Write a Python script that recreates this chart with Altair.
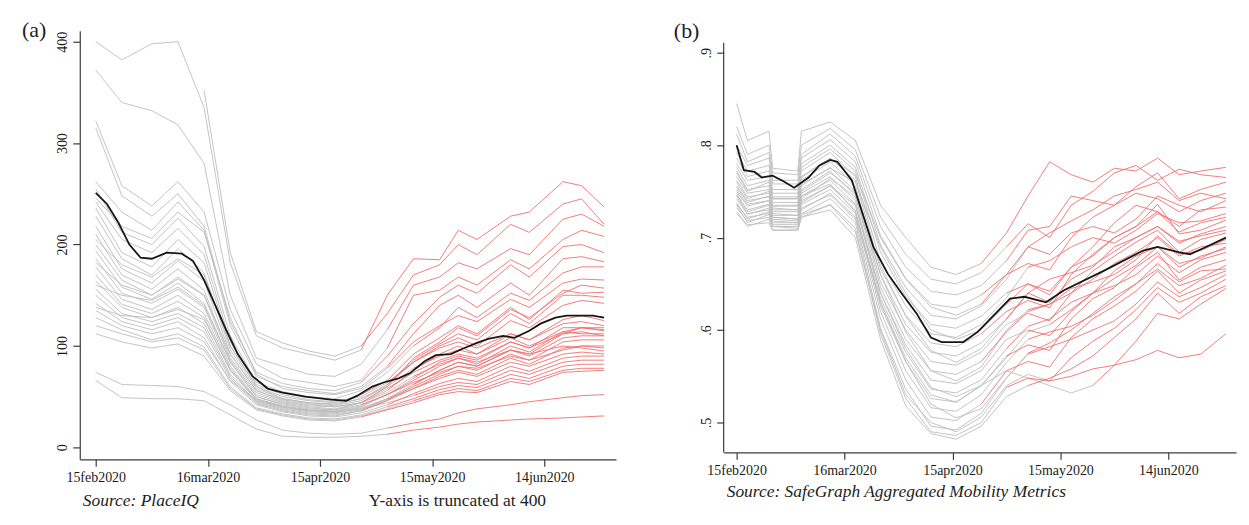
import altair as alt
import pandas as pd
import numpy as np

BASE = pd.Timestamp("2020-02-15")
nan = np.nan

# ---------------- shared tick labels ----------------
xtick_dates = ["2020-02-15", "2020-03-16", "2020-04-15", "2020-05-15", "2020-06-14"]
xtick_labels = ["15feb2020", "16mar2020", "15apr2020", "15may2020", "14jun2020"]

# ---------------- panel (a): mixing index (PlaceIQ) ----------------
dates_a = ["2020-02-15", "2020-02-22", "2020-03-01", "2020-03-08", "2020-03-15", "2020-03-22",
           "2020-03-29", "2020-04-05", "2020-04-12", "2020-04-19", "2020-04-26", "2020-05-03",
           "2020-05-10", "2020-05-17", "2020-05-22", "2020-05-27", "2020-06-05", "2020-06-10",
           "2020-06-19", "2020-06-24", "2020-06-30"]
states_a = [
    [400, 382, 398, 400, 335, 182, 110, 98, 92, 86, 96, 150, 186, 185, 214, 205, 228, 232, 262, 258, 237],
    [nan, nan, nan, nan, 352, 192, 114, 103, 95, 90, 100, 132, 170, 180, 200, 190, 220, 212, 240, 245, 220],
    [372, 340, 332, 318, 280, 150, 88, 80, 72, 70, 82, 116, 160, 168, 182, 176, 196, 190, 225, 230, 218],
    [322, 258, 238, 262, 232, 136, 82, 68, 64, 60, 66, 98, 150, 155, 168, 160, 185, 176, 205, 214, 208],
    [315, 248, 228, 250, 218, 124, 74, 63, 58, 56, 64, 90, 122, 148, 160, 152, 180, 168, 198, 200, 192],
    [262, 232, 214, 242, 214, 120, 70, 60, 56, 53, 60, 80, 112, 140, 150, 138, 162, 150, 186, 188, 183],
    [255, 212, 200, 226, 198, 110, 64, 55, 50, 48, 56, 74, 100, 118, 138, 128, 152, 145, 172, 178, 178],
    [242, 205, 192, 216, 190, 104, 62, 52, 47, 45, 50, 64, 84, 98, 104, 98, 112, 106, 122, 124, 120],
    [236, 192, 178, 205, 182, 100, 60, 50, 46, 44, 52, 66, 92, 108, 120, 112, 138, 126, 155, 152, 153],
    [228, 186, 170, 196, 172, 96, 58, 48, 44, 42, 48, 62, 86, 102, 112, 106, 132, 122, 150, 150, 148],
    [218, 176, 162, 184, 164, 92, 56, 47, 43, 41, 46, 62, 84, 100, 108, 100, 125, 118, 140, 145, 142],
    [210, 170, 156, 176, 155, 88, 54, 45, 41, 40, 44, 54, 70, 82, 88, 84, 96, 92, 100, 98, 95],
    [200, 165, 150, 168, 150, 86, 52, 44, 40, 38, 44, 56, 76, 92, 100, 92, 112, 106, 126, 130, 125],
    [194, 158, 146, 162, 142, 84, 50, 43, 39, 37, 44, 60, 88, 104, 118, 110, 136, 128, 152, 160, 157],
    [186, 152, 142, 156, 138, 80, 48, 41, 37, 36, 41, 52, 68, 84, 90, 86, 104, 98, 118, 118, 116],
    [178, 146, 136, 150, 132, 78, 47, 40, 36, 35, 40, 52, 66, 80, 88, 82, 100, 94, 114, 112, 112],
    [170, 141, 132, 144, 128, 76, 46, 39, 35, 34, 38, 48, 62, 76, 84, 80, 96, 90, 108, 110, 110],
    [164, 138, 128, 138, 122, 72, 45, 38, 34, 33, 37, 47, 60, 72, 80, 76, 92, 86, 104, 106, 106],
    [156, 132, 124, 132, 118, 70, 44, 37, 33, 32, 36, 46, 58, 70, 76, 72, 88, 82, 98, 100, 100],
    [150, 128, 120, 128, 114, 68, 43, 36, 32, 31, 36, 48, 62, 76, 84, 80, 96, 92, 112, 118, 118],
    [142, 124, 116, 124, 108, 65, 42, 35, 31, 30, 34, 42, 53, 63, 68, 65, 80, 75, 88, 90, 90],
    [135, 120, 112, 118, 104, 66, 46, 40, 37, 35, 38, 44, 51, 60, 64, 62, 76, 72, 84, 86, 86],
    [128, 116, 106, 112, 99, 60, 39, 33, 29, 28, 32, 40, 48, 57, 61, 59, 72, 68, 80, 82, 82],
    [120, 112, 104, 108, 96, 58, 38, 32, 28, 27, 31, 38, 46, 54, 58, 56, 68, 65, 76, 78, 78],
    [112, 104, 98, 102, 90, 56, 37, 31, 27, 26, 30, 37, 44, 52, 55, 54, 65, 62, 74, 75, 76],
    [74, 62, 61, 60, 55, 42, 27, 17, 14, 13, 14, 19, 24, 28, 34, 38, 42, 45, 49, 51, 52],
    [66, 49, 48, 48, 46, 32, 18, 11, 10, 10, 11, 13, 17, 20, 23, 25, 27, 28, 29, 30, 31],
    [246, 218, 206, 232, 212, 128, 72, 58, 54, 52, 58, 78, 104, 120, 130, 124, 146, 138, 162, 166, 165],
    [205, 180, 168, 186, 170, 100, 60, 48, 44, 43, 48, 60, 78, 90, 96, 92, 108, 100, 114, 118, 115],
    [182, 160, 150, 166, 150, 92, 56, 46, 42, 40, 44, 58, 74, 86, 92, 88, 104, 98, 112, 114, 110],
    [160, 150, 145, 158, 140, 84, 50, 42, 38, 37, 42, 52, 64, 74, 80, 78, 90, 86, 96, 100, 98],
    [138, 130, 128, 136, 126, 76, 48, 40, 36, 35, 39, 48, 58, 68, 74, 70, 84, 80, 92, 94, 92],
]
reopen_a = [10, 10, 11, 11, 10, 11, 12, 11, 10, 12, 11, 12, 11, 10, 12, 11, 12, 11, 10, 12,
            11, 12, 11, 12, 10, 11, 11, 11, 12, 11, 10, 12]

mean_dates_a = ["2020-02-15", "2020-02-18", "2020-02-21", "2020-02-24", "2020-02-27", "2020-03-01",
                "2020-03-05", "2020-03-09", "2020-03-12", "2020-03-15", "2020-03-18", "2020-03-21",
                "2020-03-24", "2020-03-28", "2020-04-01", "2020-04-05", "2020-04-11", "2020-04-18",
                "2020-04-22", "2020-04-25", "2020-04-29", "2020-05-02", "2020-05-06", "2020-05-09",
                "2020-05-13", "2020-05-16", "2020-05-20", "2020-05-23", "2020-05-27", "2020-05-30",
                "2020-06-03", "2020-06-06", "2020-06-10", "2020-06-13", "2020-06-17", "2020-06-20",
                "2020-06-24", "2020-06-27", "2020-06-30"]
mean_a = [251, 240, 222, 200, 187, 186, 192, 191, 184, 165, 140, 115, 92, 70, 58, 54, 50, 47,
          46, 51, 60, 64, 68, 73, 85, 91, 92, 97, 103, 107, 110, 108, 115, 122, 128, 130, 130, 130, 128]

# ---------------- panel (b): fraction leaving home (SafeGraph) ----------------
dates_b = ["2020-02-15", "2020-02-18", "2020-02-24", "2020-02-25", "2020-03-03", "2020-03-04",
           "2020-03-12", "2020-03-19", "2020-03-26", "2020-04-02", "2020-04-09", "2020-04-16",
           "2020-04-23", "2020-04-30", "2020-05-06", "2020-05-12", "2020-05-18", "2020-05-24",
           "2020-05-30", "2020-06-05", "2020-06-11", "2020-06-17", "2020-06-23", "2020-06-30"]
states_b = [
    [.845, .805, .815, .775, .772, .815, .825, .805, .735, .700, .668, .660, .672, .705, .745, .782, .768, .760, .775, .772, .786, .768, .772, .776],
    [.820, .790, .800, .770, .768, .800, .818, .795, .722, .682, .655, .650, .662, .690, .715, .700, .735, .750, .770, .778, .762, .774, .768, .765],
    [.812, .782, .792, .762, .762, .790, .812, .788, .712, .668, .642, .638, .648, .675, .708, .712, .745, .740, .735, .755, .770, .742, .752, .760],
    [.800, .778, .786, .758, .758, .786, .806, .782, .702, .656, .628, .624, .638, .660, .672, .665, .700, .722, .735, .748, .742, .728, .740, .748],
    [.792, .772, .778, .752, .752, .780, .800, .776, .692, .646, .616, .612, .626, .655, .690, .682, .705, .712, .705, .720, .745, .735, .728, .740],
    [.786, .766, .772, .748, .748, .776, .796, .772, .684, .636, .606, .602, .615, .640, .650, .638, .668, .690, .716, .735, .728, .712, .730, .733],
    [.780, .762, .766, .744, .744, .772, .792, .766, .674, .626, .596, .592, .606, .635, .668, .675, .690, .700, .694, .708, .726, .716, .718, .726],
    [.776, .756, .762, .742, .742, .766, .786, .762, .666, .616, .586, .582, .596, .620, .632, .624, .660, .682, .700, .712, .736, .704, .708, .719],
    [.772, .752, .756, .738, .738, .762, .782, .756, .660, .606, .576, .572, .586, .612, .640, .655, .662, .670, .685, .700, .712, .694, .704, .712],
    [.766, .748, .752, .734, .734, .756, .776, .750, .652, .600, .566, .562, .576, .606, .618, .610, .640, .664, .680, .695, .708, .684, .698, .705],
    [.762, .744, .748, .732, .730, .752, .772, .746, .646, .590, .556, .552, .566, .598, .620, .628, .645, .652, .660, .676, .702, .682, .686, .698],
    [.756, .740, .744, .728, .728, .748, .766, .740, .640, .584, .546, .542, .556, .590, .600, .594, .620, .640, .664, .680, .690, .672, .678, .690],
    [.752, .736, .740, .726, .724, .745, .762, .736, .634, .576, .536, .532, .546, .580, .604, .612, .630, .640, .648, .660, .680, .662, .676, .684],
    [.746, .730, .736, .722, .720, .740, .756, .730, .626, .566, .526, .522, .540, .572, .584, .578, .612, .634, .646, .668, .684, .654, .668, .676],
    [.742, .726, .730, .718, .716, .736, .752, .726, .620, .556, .516, .512, .530, .565, .590, .598, .604, .616, .632, .650, .666, .648, .656, .670],
    [.736, .722, .726, .714, .714, .732, .746, .720, .612, .546, .506, .502, .520, .556, .566, .560, .592, .612, .626, .642, .664, .640, .654, .664],
    [.732, .718, .722, .712, .710, .726, .742, .716, .602, .536, .496, .492, .510, .548, .574, .582, .590, .600, .610, .628, .652, .636, .646, .660],
    [.726, .714, .716, .708, .708, .722, .736, .710, .596, .526, .490, .486, .500, .538, .548, .545, .570, .588, .602, .622, .646, .630, .640, .655],
    [.728, .712, .720, .708, .708, .722, .730, .700, .590, .518, .488, .482, .496, .528, .540, .548, .558, .572, .592, .612, .640, .618, .636, .648],
    [.735, .716, .725, .712, .712, .725, .735, .706, .600, .530, .500, .490, .506, .540, .552, .545, .550, .558, .562, .568, .578, .570, .574, .596],
    [.750, .734, .740, .724, .724, .745, .758, .728, .630, .570, .530, .522, .540, .556, .548, .540, .532, .540, .562, .588, .618, .612, .628, .645],
    [.760, .742, .750, .735, .735, .758, .775, .760, .690, .640, .600, .590, .600, .628, .650, .642, .668, .680, .700, .712, .728, .706, .716, .722],
    [.748, .728, .735, .722, .720, .742, .764, .744, .660, .598, .556, .545, .560, .600, .622, .628, .640, .655, .672, .684, .700, .680, .690, .694],
    [.770, .750, .760, .742, .742, .765, .785, .768, .700, .655, .625, .616, .628, .660, .690, .705, .718, .730, .745, .752, .760, .740, .748, .742],
    [.738, .720, .728, .716, .716, .730, .748, .722, .630, .566, .520, .505, .515, .548, .575, .586, .600, .618, .636, .650, .672, .652, .664, .666],
    [.755, .738, .745, .730, .730, .750, .770, .748, .670, .615, .578, .565, .580, .612, .640, .630, .655, .668, .690, .700, .712, .696, .702, .708],
    [.745, .725, .732, .720, .718, .738, .756, .735, .640, .580, .538, .528, .540, .570, .598, .606, .622, .640, .656, .670, .690, .668, .680, .688],
]
reopen_b = [12, 13, 13, 12, 14, 13, 14, 12, 13, 14, 12, 14, 13, 13, 14, 12, 14, 13, 14, 15, 17,
            13, 14, 12, 14, 13, 15]

mean_dates_b = ["2020-02-15", "2020-02-17", "2020-02-20", "2020-02-22", "2020-02-25", "2020-02-28",
                "2020-03-02", "2020-03-06", "2020-03-09", "2020-03-12", "2020-03-14", "2020-03-18",
                "2020-03-21", "2020-03-24", "2020-03-28", "2020-04-01", "2020-04-05", "2020-04-09",
                "2020-04-12", "2020-04-18", "2020-04-22", "2020-04-27", "2020-05-01", "2020-05-05",
                "2020-05-11", "2020-05-16", "2020-05-27", "2020-06-07", "2020-06-11", "2020-06-17",
                "2020-06-20", "2020-06-24", "2020-06-30"]
mean_b = [.800, .773, .771, .765, .767, .761, .754, .765, .778, .784, .782, .762, .726, .690, .661,
          .639, .618, .592, .587, .587, .598, .618, .634, .636, .630, .643, .664, .686, .690, .684,
          .682, .689, .700]

# ---------------- build tables ----------------
def day(d):
    return (pd.Timestamp(d) - BASE).days

def build(dates, states, reopen):
    rows = []
    dd = [day(d) for d in dates]
    for i, (vals, r) in enumerate(zip(states, reopen)):
        for j, (x, v) in enumerate(zip(dd, vals)):
            if isinstance(v, float) and np.isnan(v):
                continue
            if j <= r:
                rows.append({"state": f"s{i}", "seg": "g", "day": x, "value": v})
            if j >= r:
                rows.append({"state": f"s{i}", "seg": "r", "day": x, "value": v})
    return pd.DataFrame(rows)

def build_mean(dates, vals):
    return pd.DataFrame({"day": [day(d) for d in dates], "value": vals})

xtick_days = [day(d) for d in xtick_dates]
xlabel_expr = " : ".join(f"datum.value == {v} ? '{l}'" for v, l in zip(xtick_days, xtick_labels)) + " : ''"

GRAY = "#bdbdbd"
RED = "#ef6f6f"
BLACK = "#161616"
AXIS = "#3c3c3c"
FONT = "Liberation Serif"


def panel(df, dfm, xdom, ydom, w, h, yvals, ylabel_expr, texts, yline=None):
    xenc = alt.X("day:Q", scale=alt.Scale(domain=xdom, nice=False, zero=False),
                 axis=alt.Axis(values=xtick_days, labelExpr=xlabel_expr, title=None, grid=False,
                               tickSize=7, labelPadding=4, labelFlush=False, labelOverlap=False))
    yenc = alt.Y("value:Q", scale=alt.Scale(domain=ydom, nice=False, zero=False),
                 axis=alt.Axis(values=yvals, labelExpr=ylabel_expr, title=None, grid=False,
                               tickSize=7, labelAngle=270, labelAlign="center", domain=yline is None,
                               labelBaseline="bottom", labelPadding=3, labelOverlap=False))
    base = alt.Chart(df)
    gray = base.transform_filter(alt.datum.seg == "g").mark_line(
        color=GRAY, strokeWidth=0.9).encode(x=xenc, y=yenc, detail="state:N", order="day:Q")
    red = base.transform_filter(alt.datum.seg == "r").mark_line(
        color=RED, strokeWidth=0.9).encode(x="day:Q", y="value:Q", detail="state:N", order="day:Q")
    mean = alt.Chart(dfm).mark_line(color=BLACK, strokeWidth=1.8).encode(
        x="day:Q", y="value:Q", order="day:Q")
    layers = [gray, red, mean]
    if yline is not None:
        # left axis line that stops at the axis' own range (shorter than the plot frame)
        layers.append(alt.Chart(pd.DataFrame({"x": [xdom[0]], "y1": [yline[0]], "y2": [yline[1]]}))
                      .mark_rule(color=AXIS, strokeWidth=1.2)
                      .encode(x="x:Q", y="y1:Q", y2="y2:Q"))
    for t, dx, dy, size, style in texts:
        layers.append(alt.Chart(pd.DataFrame({"t": [t]})).mark_text(
            align="left", baseline="middle", font=FONT, fontSize=size, fontStyle=style,
            color="#1e1e1e").encode(x=alt.value(dx), y=alt.value(dy), text="t:N"))
    return alt.layer(*layers).properties(width=w, height=h)


df_a = build(dates_a, states_a, reopen_a)
dfm_a = build_mean(mean_dates_a, mean_a)
df_b = build(dates_b, states_b, reopen_b)
dfm_b = build_mean(mean_dates_b, mean_b)

pa = panel(df_a, dfm_a, [-4.27, 139.2], [-11.8, 410.8], 538, 430, [0, 100, 200, 300, 400],
           "format(datum.value, 'd')",
           [("(a)", -58, -1, 22, "normal"),
            ("Source: PlaceIQ", 3, 472, 17.5, "italic"),
            ("Y-axis is truncated at 400", 290, 472, 17.5, "normal")])
pb = panel(df_b, dfm_b, [-3.6, 138.8], [0.4677, 0.9237], 514, 423, [0.5, 0.6, 0.7, 0.8, 0.9],
           "replace(format(datum.value, '.1f'), '0.', '.')",
           [("(b)", -50, 0, 22, "normal"),
            ("Source: SafeGraph Aggregated Mobility Metrics", 3, 462.5, 17.5, "italic")],
           yline=(0.4677, 0.9108))

chart = alt.hconcat(pa, pb, spacing=58).properties(
    padding={"left": 14, "top": 10, "right": 5, "bottom": 5},
    background="white",
).configure_view(stroke=None).configure_axis(
    domainColor=AXIS, domainWidth=1.2, tickColor=AXIS, tickWidth=1.2,
    labelFont=FONT, labelFontSize=14, labelColor="#1a1a1a",
)

chart.save("out.html", embed_options={"renderer": "svg", "actions": False})
